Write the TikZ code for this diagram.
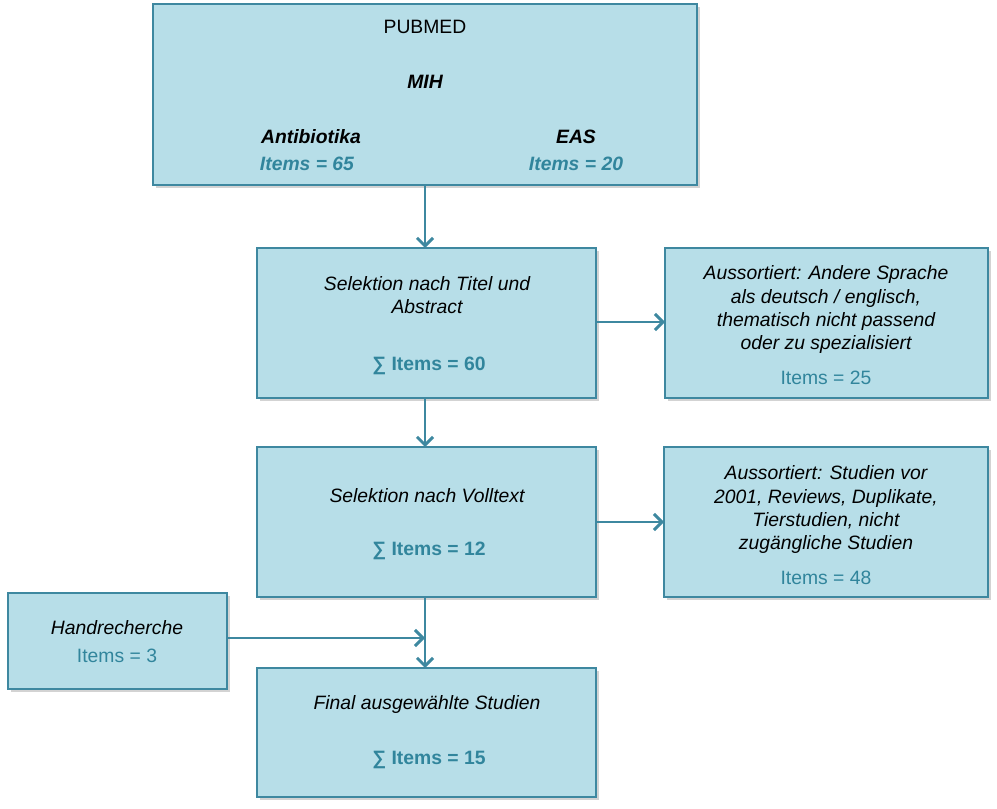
\documentclass[tikz,border=0pt]{standalone}
\usepackage{fontspec}
\setmainfont{Liberation Sans}
\usetikzlibrary{arrows.meta,shadows}
\definecolor{boxfill}{RGB}{183,222,232}
\definecolor{boxline}{RGB}{62,136,160}
\definecolor{tealtxt}{RGB}{49,133,156}
\tikzset{
 box/.style={draw=boxline,line width=1.5pt,fill=boxfill,drop shadow={shadow xshift=2pt,shadow yshift=-2pt,opacity=0.35}},
 txt/.style={font=\fontsize{14.5}{17.5}\selectfont,align=center,inner sep=0pt},
 arr/.style={draw=boxline,line width=2.2pt,-{Straight Barb[length=6pt,width=12pt,line width=2.2pt]}}
}
\begin{document}
\begin{tikzpicture}[x=0.75pt,y=-0.75pt]
\useasboundingbox (0,0) rectangle (997,809);
\path[box] (153,4) rectangle (697,185);
\path[box] (257,248) rectangle (596,398);
\path[box] (665,248) rectangle (988,398);
\path[box] (257,447) rectangle (596,597);
\path[box] (664,447) rectangle (988,597);
\path[box] (8,593) rectangle (227,689);
\path[box] (257,668) rectangle (596,797);
\coordinate (pb) at (425,185);
\coordinate (s1t) at (425,248);
\coordinate (s1b) at (425,398);
\coordinate (s1r) at (596,322);
\coordinate (a1l) at (665,322);
\coordinate (s2t) at (425,447);
\coordinate (s2b) at (425,597);
\coordinate (s2r) at (596,522);
\coordinate (a2l) at (664,522);
\coordinate (ft) at (425,668);
\coordinate (hr) at (227,638);
\coordinate (hj) at (425,638);
\node[txt] (t1) at (425,27) {PUBMED};
\node[txt] (t2) at (425,82) {\bfseries\itshape MIH};
\node[txt] (t3) at (311,137) {\bfseries\itshape Antibiotika};
\node[txt,text=tealtxt] (t4) at (307,164) {\bfseries\itshape Items = 65};
\node[txt] (t5) at (576,137) {\bfseries\itshape EAS};
\node[txt,text=tealtxt] (t6) at (576,164) {\bfseries\itshape Items = 20};
\node[txt] (s1) at (427,295) {\itshape Selektion nach Titel und\\\itshape Abstract};
\node[txt,text=tealtxt] (s1i) at (429,366) {\bfseries ∑ Items = 60};
\node[txt] (a1) at (826,310) {\itshape Aussortiert: Andere Sprache\\\itshape als deutsch / englisch,\\\itshape thematisch nicht passend\\\itshape oder zu spezialisiert};
\node[txt,text=tealtxt] (a1i) at (826,378) {Items = 25};
\node[txt] (s2) at (427,496) {\itshape Selektion nach Volltext};
\node[txt,text=tealtxt] (s2i) at (429,551) {\bfseries ∑ Items = 12};
\node[txt] (a2) at (826,510) {\itshape Aussortiert: Studien vor\\\itshape 2001, Reviews, Duplikate,\\\itshape Tierstudien, nicht\\\itshape zugängliche Studien};
\node[txt,text=tealtxt] (a2i) at (826,578) {Items = 48};
\node[txt] (h) at (117,628) {\itshape Handrecherche};
\node[txt,text=tealtxt] (hi) at (117,656) {Items = 3};
\node[txt] (f) at (427,705) {\itshape Final ausgewählte Studien};
\node[txt,text=tealtxt] (fi) at (429,760) {\bfseries ∑ Items = 15};
\draw[arr] (pb) -- (s1t);
\draw[arr] (s1b) -- (s2t);
\draw[arr] (s1r) -- (a1l);
\draw[arr] (s2r) -- (a2l);
\draw[arr] (s2b) -- (ft);
\draw[arr] (hr) -- (hj);
\end{tikzpicture}
\end{document}
